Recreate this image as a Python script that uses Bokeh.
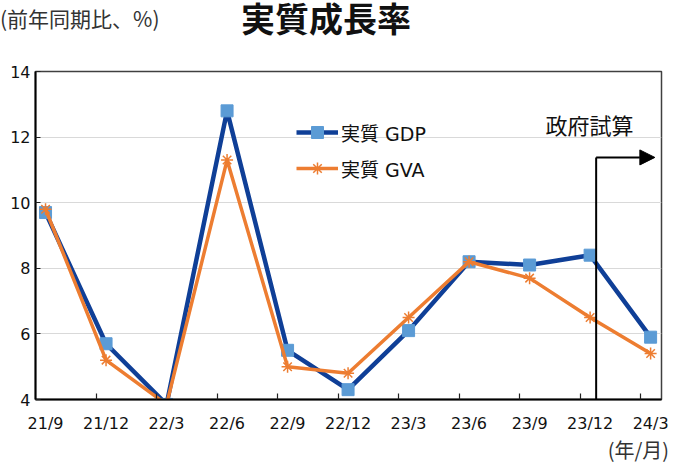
from bokeh.plotting import figure
from bokeh.models import FixedTicker, Label, Legend, LegendItem, Arrow, NormalHead, ColumnDataSource, Div
from bokeh.layouts import column
from bokeh.embed import file_html
from bokeh.resources import INLINE

# ---- data ----
categories = ["21/9", "21/12", "22/3", "22/6", "22/9", "22/12", "23/3", "23/6", "23/9", "23/12", "24/3"]
gdp = [9.7, 5.7, 3.85, 12.8, 5.5, 4.3, 6.1, 8.2, 8.1, 8.4, 5.9]
gva = [9.8, 5.2, 3.85, 11.3, 5.0, 4.8, 6.5, 8.2, 7.7, 6.5, 5.4]
y_ticks = [4, 6, 8, 10, 12, 14]
xs = list(range(len(categories)))

title_text = "実質成長率"
subtitle_text = "(前年同期比、%)"
unit_text = "(年/月)"
note_text = "政府試算"

CJK = "DejaVu Sans, Noto Sans CJK JP"
LAT = "DejaVu Sans"

header = Div(width=672, height=40, margin=0, text=(
    '<div style="position:relative;width:672px;height:40px;">'
    '<div style="position:absolute;left:0px;top:7px;font-family:\'Noto Sans CJK JP\';'
    'font-size:21px;line-height:1.1;color:#333333;white-space:nowrap;">' + subtitle_text + '</div>'
    '<div style="position:absolute;left:241px;top:1px;font-family:\'Noto Sans CJK JP\';'
    'font-size:34px;font-weight:bold;line-height:1;color:#111111;white-space:nowrap;">' + title_text + '</div>'
    '</div>'))

footer = Div(width=672, height=22, margin=0, text=(
    '<div style="position:relative;width:672px;height:22px;">'
    '<div style="position:absolute;right:3px;top:0px;font-family:\'Noto Sans CJK JP\';'
    'font-size:20px;line-height:1.05;color:#333333;white-space:nowrap;">' + unit_text + '</div>'
    '</div>'))

p = figure(width=672, height=399, x_range=(-0.166, 10.18), y_range=(4, 14),
           output_backend="svg", toolbar_location=None, margin=0,
           min_border_left=35, min_border_right=11, min_border_top=31, min_border_bottom=40)
p.background_fill_color = "white"
p.outline_line_color = "#404040"
p.outline_line_width = 1.5

# axes
p.xaxis.ticker = FixedTicker(ticks=xs, minor_ticks=[i - 0.166 for i in range(1, len(categories))])
p.xaxis.major_label_overrides = {i: c for i, c in enumerate(categories)}
p.xaxis.major_tick_line_color = None
p.xaxis.minor_tick_in = 6
p.xaxis.minor_tick_out = 0
p.xaxis.minor_tick_line_color = "#222222"
p.xaxis.minor_tick_line_width = 1.2
p.xaxis.axis_line_color = "black"
p.xaxis.axis_line_width = 2
p.xaxis.major_label_text_font = LAT
p.xaxis.major_label_text_font_size = "16px"
p.xaxis.major_label_text_color = "#111111"
p.xaxis.major_label_standoff = 8

p.yaxis.ticker = FixedTicker(ticks=y_ticks)
p.yaxis.major_tick_in = 5
p.yaxis.major_tick_out = 0
p.yaxis.major_tick_line_color = "#222222"
p.yaxis.minor_tick_line_color = None
p.yaxis.axis_line_color = "black"
p.yaxis.axis_line_width = 2
p.yaxis.major_label_text_font = LAT
p.yaxis.major_label_text_font_size = "16px"
p.yaxis.major_label_text_color = "#111111"
p.yaxis.major_label_standoff = 5

p.xgrid.grid_line_color = None
p.ygrid.ticker = FixedTicker(ticks=y_ticks)
p.ygrid.grid_line_color = "#D9D9D9"
p.ygrid.grid_line_width = 1.2

src = ColumnDataSource(dict(x=xs, gdp=gdp, gva=gva))

l1 = p.line("x", "gdp", source=src, line_color="#0F3F97", line_width=4.5)
s1 = p.scatter("x", "gdp", source=src, marker="square", size=12,
               fill_color="#5B9BD5", line_color="#5B9BD5")
l2 = p.line("x", "gva", source=src, line_color="#ED7D31", line_width=3.5)
s2 = p.scatter("x", "gva", source=src, marker="asterisk", size=12,
               line_color="#ED7D31", line_width=1.5)

legend = Legend(items=[LegendItem(label="実質 GDP", renderers=[l1, s1]),
                       LegendItem(label="実質 GVA", renderers=[l2, s2])],
                location=(261, 216), orientation="vertical",
                glyph_width=42, glyph_height=30, label_height=30, spacing=6,
                label_standoff=3, padding=0, margin=0,
                label_text_font=CJK, label_text_font_size="19px",
                label_text_color="#111111",
                border_line_color=None, background_fill_alpha=0)
p.add_layout(legend)

# government estimate marker
est_x = 9.1
est_y = 11.38
arrow_end = 10.07
p.add_layout(Arrow(x_start=est_x, y_start=4, x_end=est_x, y_end=est_y,
                   line_color="black", line_width=2, end=None))
p.add_layout(Arrow(x_start=est_x, y_start=est_y, x_end=arrow_end, y_end=est_y,
                   line_color="black", line_width=2,
                   end=NormalHead(size=15, fill_color="black", line_color="black")))
p.add_layout(Label(x=554, y=273, x_units="screen", y_units="screen",
                   text=note_text, text_font=CJK, text_font_size="22px",
                   text_align="center", text_baseline="middle", text_color="#111111"))

layout = column(header, p, footer, spacing=0, margin=0)
open("out.html", "w").write(file_html(layout, INLINE))
